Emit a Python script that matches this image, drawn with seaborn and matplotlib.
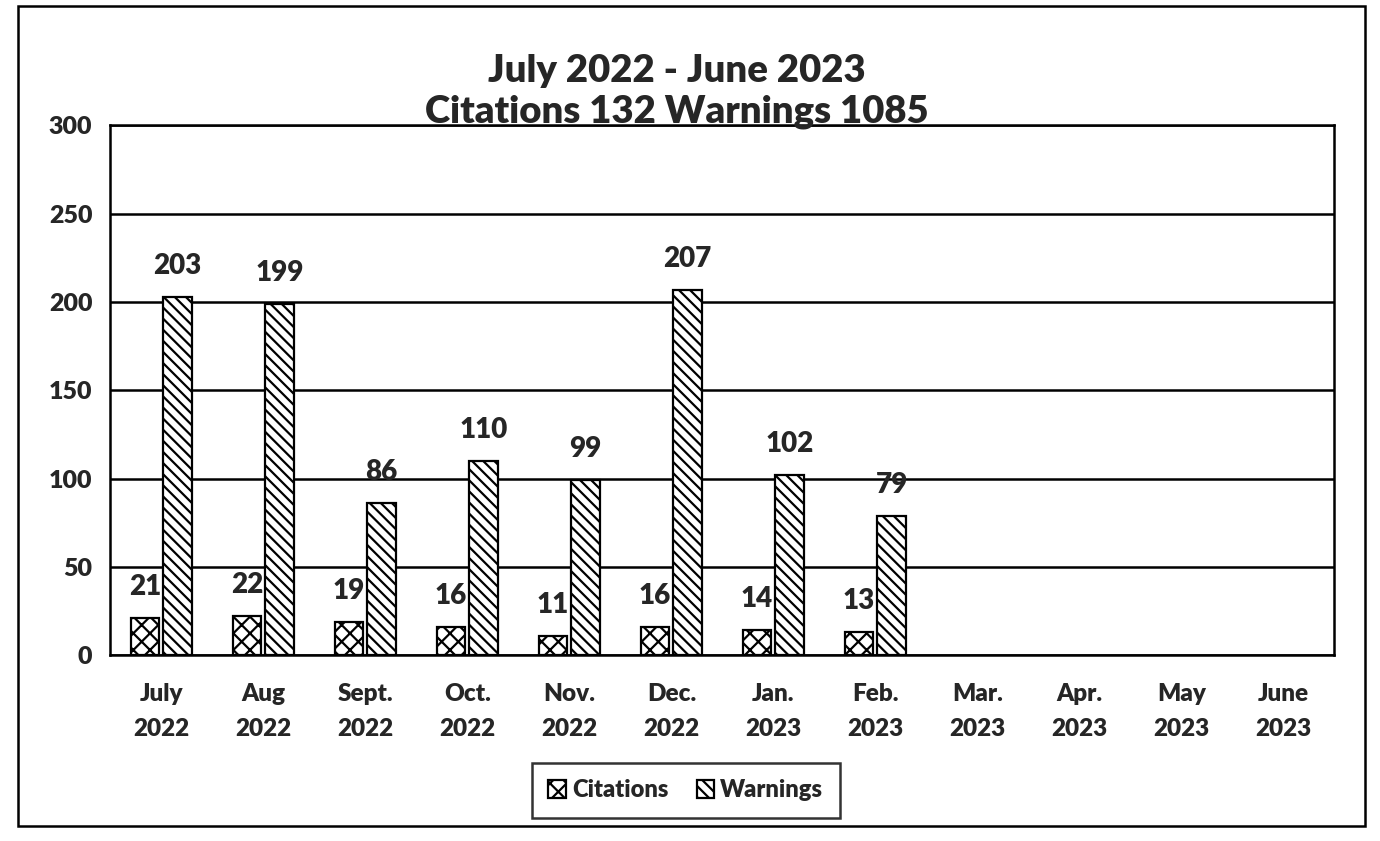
import pandas as pd
import matplotlib.pyplot as plt
import seaborn as sns
from matplotlib.patches import Rectangle

months = ['July\n2022', 'Aug\n2022', 'Sept.\n2022', 'Oct.\n2022', 'Nov.\n2022', 'Dec.\n2022',
          'Jan.\n2023', 'Feb.\n2023', 'Mar.\n2023', 'Apr.\n2023', 'May\n2023', 'June\n2023']
citations = [21, 22, 19, 16, 11, 16, 14, 13, None, None, None, None]
warnings = [203, 199, 86, 110, 99, 207, 102, 79, None, None, None, None]
yticks = [0, 50, 100, 150, 200, 250, 300]

df = pd.DataFrame({'Month': months * 2,
                   'Count': citations + warnings,
                   'Type': ['Citations'] * 12 + ['Warnings'] * 12})

sns.set_style("white")
plt.rcParams['font.family'] = ['Lato', 'DejaVu Sans']
plt.rcParams['font.weight'] = 'heavy'
plt.rcParams['hatch.linewidth'] = 1.6
W = 'heavy'

fig = plt.figure(figsize=(13.8, 8.41), dpi=100)
ax = fig.add_axes([0.08, 0.221, 0.887, 0.630])

sns.barplot(data=df, x='Month', y='Count', hue='Type', order=months,
            width=0.64, gap=0.12, palette=['white', 'white'],
            edgecolor='black', linewidth=1.6, ax=ax, legend=True)

# hatch patterns: cross for citations, dense diagonal for warnings
hatches = ['xx', '\\\\\\']
for cont, h in zip(ax.containers, hatches):
    for bar in cont:
        bar.set_hatch(h)
    ax.bar_label(cont, fmt='%d', padding=13, fontsize=20, fontweight=W)

ax.set_ylim(0, 300)
ax.set_yticks(yticks)
ax.yaxis.grid(True, color='black', linewidth=1.8)
ax.set_axisbelow(True)
for s in ax.spines.values():
    s.set_visible(True)
    s.set_color('black')
    s.set_linewidth(1.8)
ax.tick_params(axis='y', labelsize=18, length=0, pad=13)
ax.tick_params(axis='x', labelsize=17.5, length=0, pad=20)
for t in ax.get_yticklabels() + ax.get_xticklabels():
    t.set_fontweight(W)
for t in ax.get_xticklabels():
    t.set_linespacing(1.75)
ax.set_xlabel('')
ax.set_ylabel('')

ax.set_title('July 2022 - June 2023\nCitations 132 Warnings 1085', fontsize=27.5,
             fontweight=W, pad=2, linespacing=1.25, x=0.463)

leg = ax.legend(loc='center', bbox_to_anchor=(0.47, -0.255), ncol=2, frameon=True,
                fancybox=False, edgecolor='black', fontsize=17, handlelength=0.75,
                handleheight=0.75, handletextpad=0.25, columnspacing=1.2, borderpad=0.7)
leg.get_frame().set_linewidth(1.8)
for txt in leg.get_texts():
    txt.set_fontweight(W)
for p, h in zip(leg.get_patches(), hatches):
    p.set_hatch(h)
    p.set_edgecolor('black')
    p.set_facecolor('white')

# outer chart border
fig.patches.append(Rectangle((0.013, 0.018), 0.976, 0.975, transform=fig.transFigure,
                             fill=False, edgecolor='black', linewidth=1.8))

fig.savefig('out.png', dpi=100)
